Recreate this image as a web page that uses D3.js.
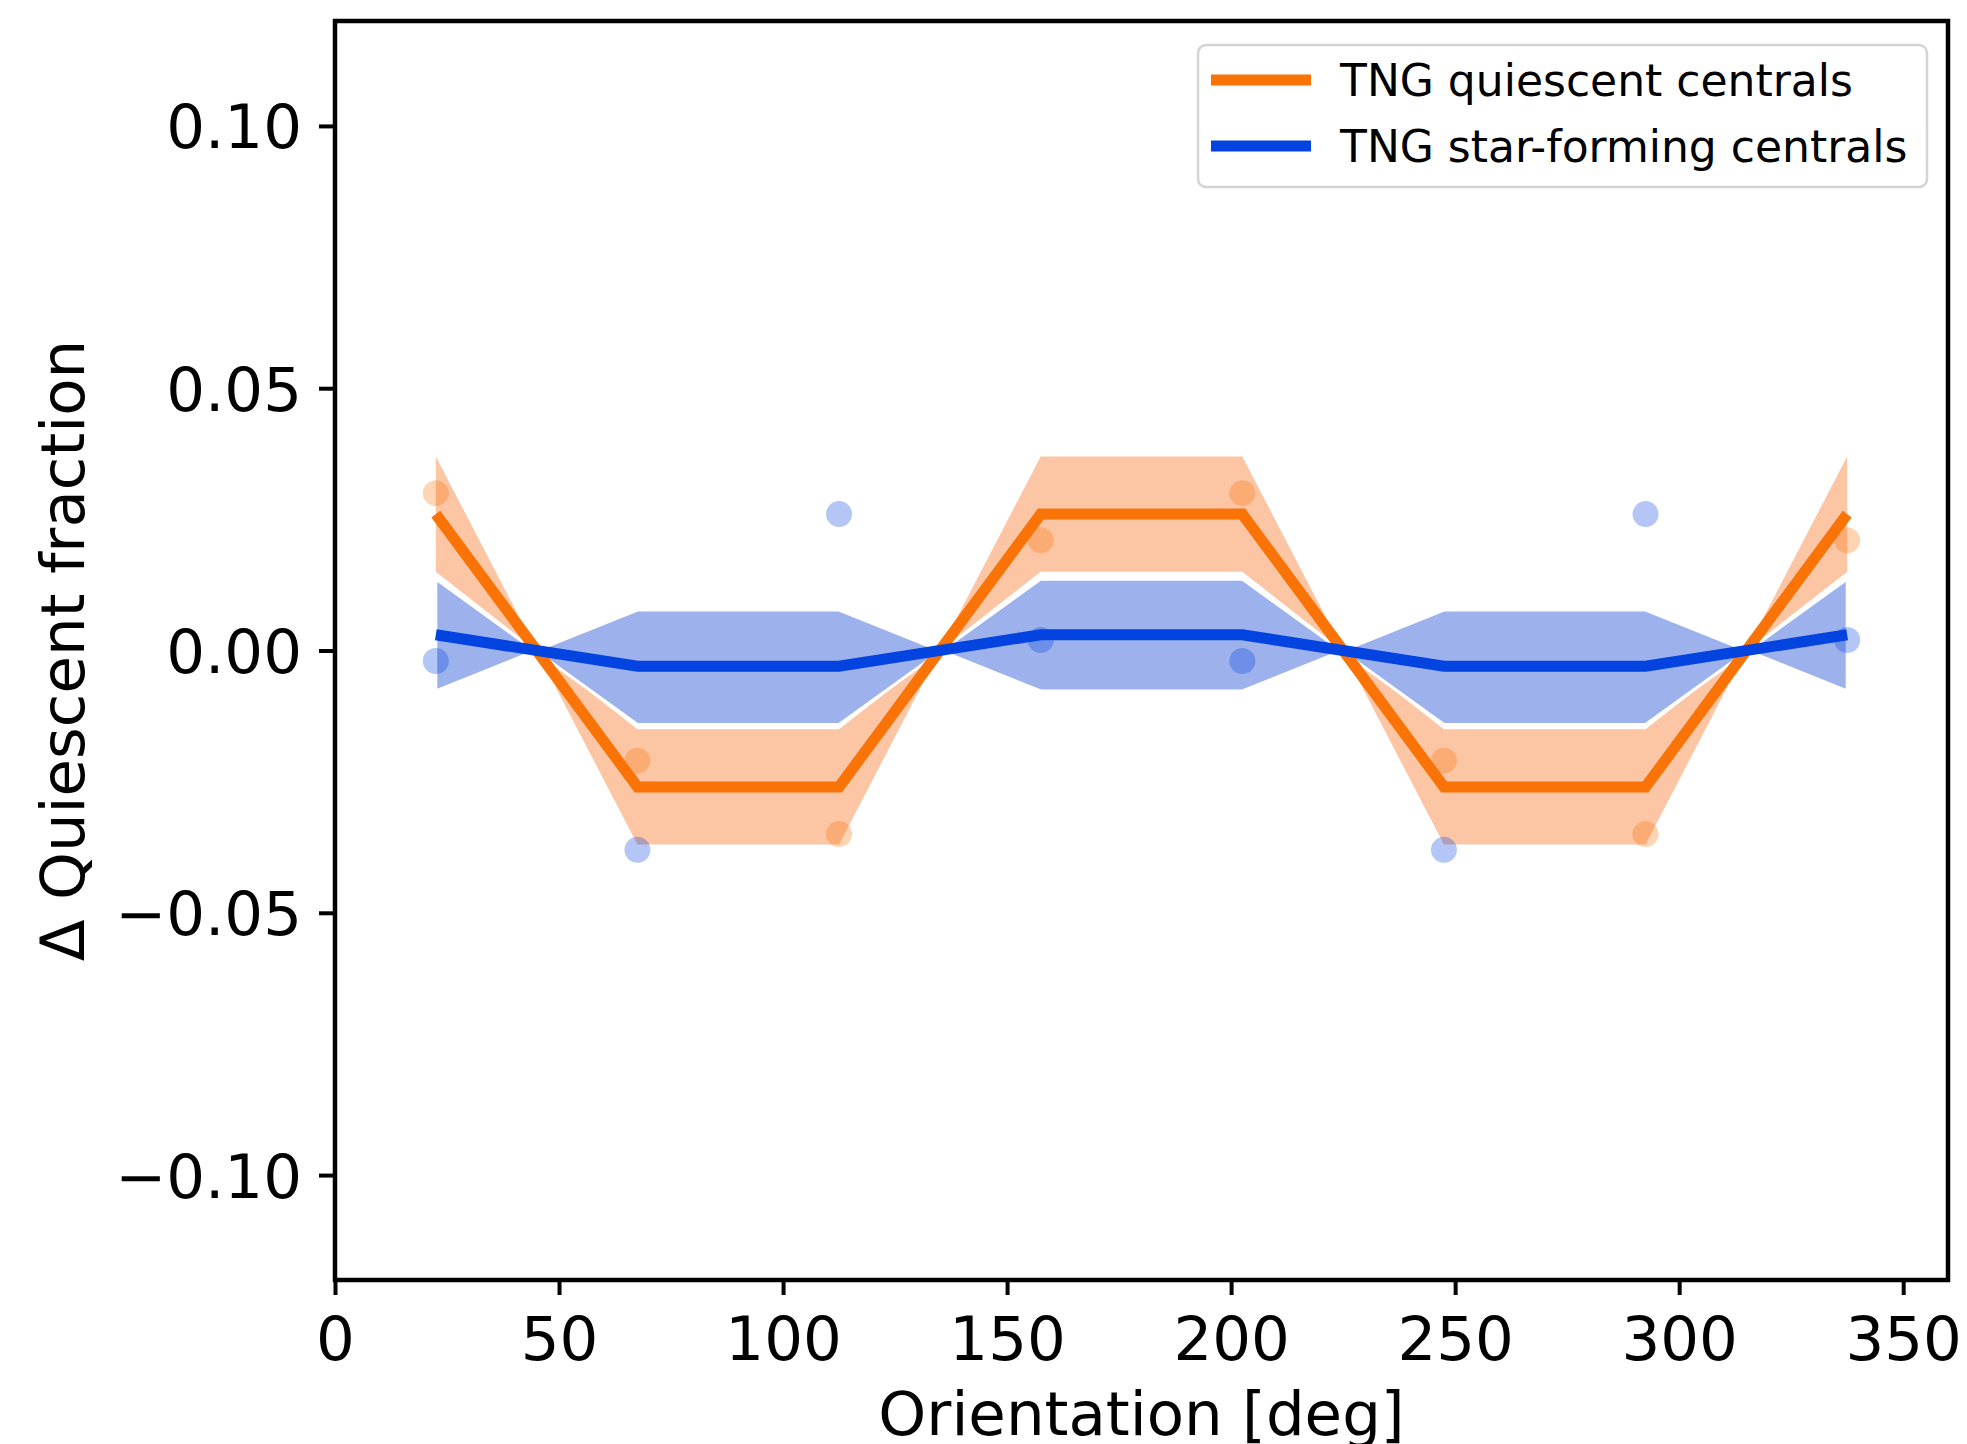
<!DOCTYPE html>
<html>
<head>
<meta charset="utf-8">
<script src="https://cdn.jsdelivr.net/npm/d3@7"></script>
<style>
  html, body { margin: 0; padding: 0; background: #ffffff; }
  svg { display: block; }
  text { font-family: "DejaVu Sans", sans-serif; fill: #000; }
</style>
</head>
<body>
<svg id="chart" width="1967" height="1444"></svg>
<script>
// ---- data ----
const orientation = [22.5, 67.5, 112.5, 157.5, 202.5, 247.5, 292.5, 337.5];

// quiescent centrals: mean line, band edge A (outer) and band edge B (inner), scatter points
const quiescentMean  = [0.026, -0.026, -0.026, 0.026, 0.026, -0.026, -0.026, 0.026];
const quiescentEdgeA = [0.037, -0.037, -0.037, 0.037, 0.037, -0.037, -0.037, 0.037];
const quiescentEdgeB = [0.015, -0.015, -0.015, 0.015, 0.015, -0.015, -0.015, 0.015];
const quiescentPts   = [0.030, -0.021, -0.035, 0.021, 0.030, -0.021, -0.035, 0.021];

// star-forming centrals
const starFormMean   = [0.003, -0.003, -0.003, 0.003, 0.003, -0.003, -0.003, 0.003];
const starFormEdgeA  = [0.0136, -0.0141, -0.0141, 0.0136, 0.0136, -0.0141, -0.0141, 0.0136];
const starFormEdgeB  = [-0.0077, 0.0077, 0.0077, -0.0077, -0.0077, 0.0077, 0.0077, -0.0077];
const starFormPts    = [-0.002, -0.038, 0.026, 0.002, -0.002, -0.038, 0.026, 0.002];

const xTicks = [0, 50, 100, 150, 200, 250, 300, 350];
const yTicks = [-0.10, -0.05, 0.00, 0.05, 0.10];
const seriesNames = ["TNG quiescent centrals", "TNG star-forming centrals"];

// ---- layout ----
const M = { left: 335, right: 1948, top: 21, bottom: 1280 };
const orange = "#f97306", blue = "#0343df";

const svg = d3.select("#chart");
const x = d3.scaleLinear().domain([0, 360]).range([M.left, M.right]);
const y = d3.scaleLinear().domain([-0.12, 0.12]).range([M.bottom, M.top]);

const idx = d3.range(orientation.length);

const area = (a, b) => d3.area()
  .x(i => x(orientation[i]))
  .y0(i => y(a[i]))
  .y1(i => y(b[i]));
const line = (v) => d3.line()
  .x(i => x(orientation[i]))
  .y(i => y(v[i]));

// bands
svg.append("path").attr("d", area(quiescentEdgeA, quiescentEdgeB)(idx))
  .attr("fill", "#fcc5a4").attr("stroke", "none");
svg.append("path").attr("d", area(starFormEdgeA, starFormEdgeB)(idx))
  .attr("fill", "#9db1ec").attr("stroke", "#ffffff").attr("stroke-width", 3)
  .attr("stroke-linejoin", "miter");

// points
svg.append("g").selectAll("circle").data(idx).join("circle")
  .attr("cx", i => x(orientation[i])).attr("cy", i => y(quiescentPts[i]))
  .attr("r", 13).attr("fill", orange).attr("fill-opacity", 0.3);
svg.append("g").selectAll("circle").data(idx).join("circle")
  .attr("cx", i => x(orientation[i])).attr("cy", i => y(starFormPts[i]))
  .attr("r", 13).attr("fill", blue).attr("fill-opacity", 0.3);

// lines
svg.append("path").attr("d", line(quiescentMean)(idx))
  .attr("fill", "none").attr("stroke", orange).attr("stroke-width", 11)
  .attr("stroke-linejoin", "miter");
svg.append("path").attr("d", line(starFormMean)(idx))
  .attr("fill", "none").attr("stroke", blue).attr("stroke-width", 11)
  .attr("stroke-linejoin", "miter");

// axes
const fmtY = d => (d < 0 ? "\u2212" : "") + Math.abs(d).toFixed(2);
const gx = svg.append("g").attr("transform", `translate(0,${M.bottom})`)
  .call(d3.axisBottom(x).tickValues(xTicks).tickSize(15).tickSizeOuter(0).tickFormat(d3.format("d")));
gx.select(".domain").remove();
gx.selectAll(".tick line").attr("stroke", "#000").attr("stroke-width", 4);
gx.selectAll(".tick text").attr("y", 80).attr("dy", 0)
  .attr("font-size", 61).attr("font-family", "DejaVu Sans").attr("fill", "#000");

const gy = svg.append("g").attr("transform", `translate(${M.left},0)`)
  .call(d3.axisLeft(y).tickValues(yTicks).tickSize(16).tickSizeOuter(0).tickFormat(fmtY));
gy.select(".domain").remove();
gy.selectAll(".tick line").attr("stroke", "#000").attr("stroke-width", 4);
gy.selectAll(".tick text").attr("x", -33).attr("dy", 22)
  .attr("font-size", 61).attr("font-family", "DejaVu Sans").attr("fill", "#000");

// frame
svg.append("rect").attr("x", M.left).attr("y", M.top)
  .attr("width", M.right - M.left).attr("height", M.bottom - M.top)
  .attr("fill", "none").attr("stroke", "#000").attr("stroke-width", 4.5);

// axis labels
svg.append("text").attr("x", (M.left + M.right) / 2).attr("y", 1435)
  .attr("text-anchor", "middle").attr("font-size", 61)
  .text("Orientation [deg]");
svg.append("text").attr("transform", `translate(84,${(M.top + M.bottom) / 2}) rotate(-90)`)
  .attr("text-anchor", "middle").attr("font-size", 61)
  .text("\u0394 Quiescent fraction");

// legend
const lg = svg.append("g");
lg.append("rect").attr("x", 1198).attr("y", 45).attr("width", 729).attr("height", 142)
  .attr("rx", 8).attr("ry", 8)
  .attr("fill", "#ffffff").attr("fill-opacity", 0.8)
  .attr("stroke", "#d4d4d4").attr("stroke-width", 2.5);
const legendColors = [orange, blue];
const legendRows = [80, 146];
seriesNames.forEach((name, k) => {
  lg.append("line").attr("x1", 1211).attr("x2", 1311)
    .attr("y1", legendRows[k]).attr("y2", legendRows[k])
    .attr("stroke", legendColors[k]).attr("stroke-width", 11);
  lg.append("text").attr("x", 1340).attr("y", legendRows[k] + 16)
    .attr("font-size", 44).text(name);
});
</script>
</body>
</html>
